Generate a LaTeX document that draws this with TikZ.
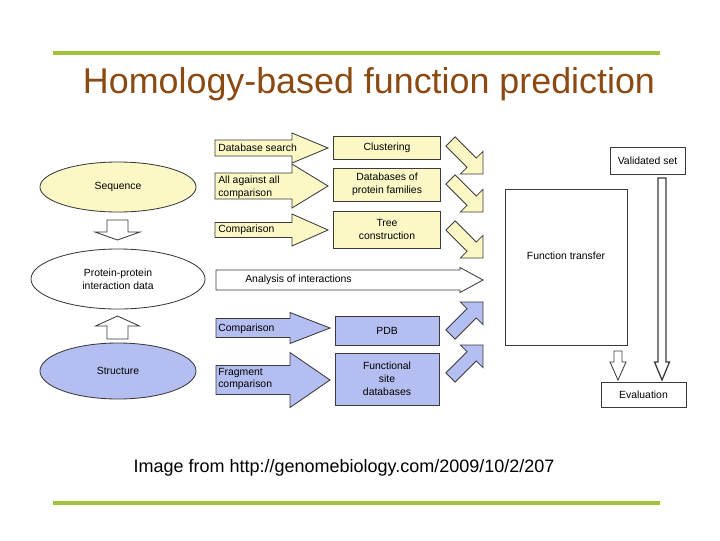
\documentclass[tikz,border=0pt]{standalone}
\usepackage{fontspec}
\setmainfont{Liberation Sans}
\usetikzlibrary{positioning,shapes.geometric}
\definecolor{homgreen}{HTML}{A2C23A}
\definecolor{hombrown}{HTML}{8B4A12}
\definecolor{homyellow}{HTML}{FBF8C6}
\definecolor{homblue}{HTML}{B4BEF0}
\definecolor{homedge}{HTML}{3A3A3A}
\newcommand{\harrow}[7]{\draw[#1] (#2,#3-#6) -- (#4,#3-#6) -- (#4,#3-#7) -- (#5,#3) -- (#4,#3+#7) -- (#4,#3+#6) -- (#2,#3+#6) -- cycle;}
\newcommand{\varrow}[7]{\draw[#1] (#2-#6,#3) -- (#2-#6,#4) -- (#2-#7,#4) -- (#2,#5) -- (#2+#7,#4) -- (#2+#6,#4) -- (#2+#6,#3) -- cycle;}
\newcommand{\darrow}[4]{\draw[#1,shift={(#2,#3)},rotate=#4] (-46,-6.5) -- (-16,-6.5) -- (-16,-16) -- (0,0) -- (-16,16) -- (-16,6.5) -- (-46,6.5) -- cycle;}

\begin{document}
\begin{tikzpicture}[x=0.025cm,y=-0.025cm,
  txt/.style={font=\fontsize{7.4}{9.2}\selectfont,align=center,inner sep=1pt},
  lbl/.style={font=\fontsize{7.4}{9.2}\selectfont,align=left,anchor=west,inner sep=0pt},
  ell/.style={ellipse,draw=homedge,line width=0.6pt,txt},
  box/.style={draw=homedge,line width=0.6pt,txt},
  yel/.style={draw=homedge,line width=0.6pt,fill=homyellow},
  blu/.style={draw=homedge,line width=0.6pt,fill=homblue},
  wht/.style={draw=homedge,line width=0.6pt,fill=white}
]
\useasboundingbox (0,0) rectangle (720,540);
\draw[homgreen,line width=2.2pt] (53,53) -- (660,53);
\draw[homgreen,line width=2.2pt] (53,503) -- (660,503);
\node[text=hombrown,font=\fontsize{25.5}{30}\selectfont,anchor=base] (title) at (369,93) {Homology-based function prediction};
\node[font=\fontsize{12.8}{15}\selectfont,anchor=base] (source) at (344,472) {Image from http://genomebiology.com/2009/10/2/207};

\node[ell,fill=homyellow,minimum width=3.9cm,minimum height=1.25cm] (seq) at (118,187) {Sequence};
\node[ell,fill=white,minimum width=4.35cm,minimum height=1.5cm] (ppi) at (118,279) {Protein-protein\\interaction data};
\node[ell,fill=homblue,minimum width=3.9cm,minimum height=1.4cm] (struct) at (118,371) {Structure};
\varrow{wht}{117.5}{220}{232}{240}{10.5}{22.5}
\varrow{wht}{117.5}{339}{326}{316}{10.5}{22}

\harrow{yel}{215}{148}{292}{328}{8}{15}
\harrow{yel}{215}{186}{292}{328}{13}{22}
\harrow{yel}{215}{230}{292}{328}{7.5}{16}
\harrow{wht}{216}{280}{460}{483}{10}{12.5}
\harrow{blu}{216}{328}{290}{330}{9.5}{15.5}
\harrow{blu}{216}{380}{290}{330}{14.5}{27.5}
\node[lbl] (dbsearch) at (218,148) {Database search};
\node[lbl] (allvsall) at (218,187) {All against all\\comparison};
\node[lbl] (seqcomp) at (218,230) {Comparison};
\node[lbl] (interact) at (245,280) {Analysis of interactions};
\node[lbl] (strcomp) at (218,329) {Comparison};
\node[lbl] (fragcomp) at (218,379) {Fragment\\comparison};

\node[box,fill=homyellow,minimum width=2.675cm,minimum height=0.575cm] (clust) at (387,148) {Clustering};
\node[box,fill=homyellow,minimum width=2.675cm,minimum height=0.825cm] (families) at (387,184.5) {Databases of\\protein families};
\node[box,fill=homyellow,minimum width=2.675cm,minimum height=0.925cm] (tree) at (387,229.5) {Tree\\construction};
\node[box,fill=homblue,minimum width=2.6cm,minimum height=0.725cm] (pdb) at (387,330.5) {PDB};
\node[box,fill=homblue,minimum width=2.6cm,minimum height=1.3cm] (sites) at (387,379) {Functional\\site\\databases};

\darrow{yel}{483}{174}{-45}
\darrow{yel}{483}{212}{-45}
\darrow{yel}{483}{258}{-45}
\darrow{blu}{483}{302}{45}
\darrow{blu}{483}{345}{45}

\node[box,fill=white,minimum width=3.05cm,minimum height=3.9cm] (transfer) at (566,267) {};
\node[txt] (transferlbl) at (566,256) {Function transfer};
\node[box,fill=white,minimum width=1.875cm,minimum height=0.675cm] (valid) at (647.5,160.5) {Validated set};
\node[box,fill=white,minimum width=2.125cm,minimum height=0.625cm] (eval) at (643.5,394.5) {Evaluation};
\varrow{wht}{618}{351}{362}{380}{4}{8}
\varrow{draw=homedge,line width=0.9pt,fill=white}{662}{178}{362}{380}{4}{7.5}
\end{tikzpicture}
\end{document}
